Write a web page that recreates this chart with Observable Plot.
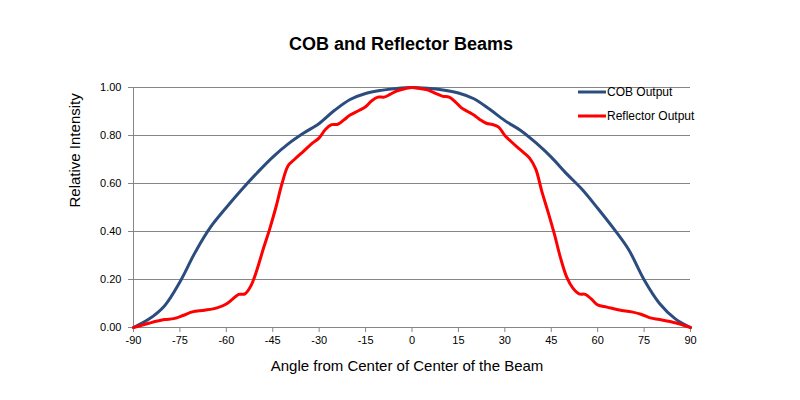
<!DOCTYPE html>
<html>
<head>
<meta charset="utf-8">
<script src="https://cdn.jsdelivr.net/npm/d3@7"></script>
<script src="https://cdn.jsdelivr.net/npm/@observablehq/plot@0.6"></script>
<style>
  html, body { margin: 0; padding: 0; background: #fff; }
  #chart { width: 800px; height: 400px; }
</style>
</head>
<body>
<div id="chart"></div>
<script>
const title = "COB and Reflector Beams";
const xLabel = "Angle from Center of Center of the Beam";
const yLabel = "Relative Intensity";
const seriesNames = ["COB Output", "Reflector Output"];
const seriesColors = ["#2B4C7E", "#FF0000"];
const xTicks = [-90, -75, -60, -45, -30, -15, 0, 15, 30, 45, 60, 75, 90];
const yTicks = [0, 0.2, 0.4, 0.6, 0.8, 1.0];

const cobAngles = [-90,-85,-80,-75,-70,-65,-60,-55,-50,-45,-40,-35,-30,-25,-20,-15,-10,-5,0,5,10,15,20,25,30,35,40,45,50,55,60,65,70,75,80,85,90];
const cobValues = [0,0.035,0.09,0.19,0.315,0.42,0.50,0.575,0.645,0.71,0.765,0.81,0.85,0.905,0.95,0.975,0.988,0.996,1.0,0.997,0.99,0.977,0.953,0.91,0.862,0.822,0.77,0.71,0.64,0.575,0.497,0.415,0.325,0.199,0.10,0.037,0];

const refAngles = [-90,-85,-80,-77,-74,-71,-67,-63,-60,-58,-56,-54,-52,-50,-48,-46,-44,-42,-40,-38,-35,-32,-30,-28,-26,-24,-22,-20,-17,-15,-13,-11,-9,-7,-5,-2,0,2,5,8,10,12,14,16,18,20,22,24,26,28,30,32,34,36,38,40,42,44,46,48,50,52,54,56,58,60,63,67,71,74,77,80,85,90];
const refValues = [0,0.018,0.033,0.037,0.05,0.065,0.072,0.082,0.098,0.118,0.138,0.14,0.175,0.245,0.33,0.41,0.50,0.60,0.675,0.70,0.735,0.77,0.79,0.825,0.845,0.847,0.865,0.885,0.905,0.92,0.945,0.96,0.96,0.972,0.985,0.996,1.0,0.997,0.99,0.973,0.963,0.96,0.94,0.915,0.9,0.885,0.866,0.851,0.846,0.835,0.80,0.775,0.752,0.73,0.706,0.66,0.565,0.48,0.39,0.29,0.21,0.164,0.14,0.138,0.118,0.094,0.085,0.073,0.065,0.055,0.04,0.033,0.02,0];

const cob = cobAngles.map((a, i) => ({angle: a, value: cobValues[i], series: seriesNames[0]}));
const ref = refAngles.map((a, i) => ({angle: a, value: refValues[i], series: seriesNames[1]}));

const font = "'Liberation Sans', Arial, sans-serif";

const plot = Plot.plot({
  width: 800,
  height: 400,
  marginLeft: 133,
  marginRight: 110,
  marginTop: 87,
  marginBottom: 73,
  style: {fontFamily: font, background: "#fff", overflow: "visible"},
  x: {domain: [-90, 90]},
  y: {domain: [0, 1]},
  marks: [
    Plot.gridY(yTicks.filter(d => d > 0), {stroke: "#868686", strokeOpacity: 1, strokeWidth: 1}),
    Plot.ruleX([-90], {stroke: "#868686"}),
    Plot.ruleY([0], {stroke: "#868686"}),
    Plot.axisX({ticks: xTicks, tickFormat: d => String(d), tickSize: 5, tickPadding: 4, fontSize: 11, stroke: "#868686", color: "#000", label: null}),
    Plot.axisY({ticks: yTicks, tickFormat: d3.format(".2f"), tickSize: 5, tickPadding: 7, fontSize: 11, stroke: "#868686", color: "#000", label: null}),
    Plot.line(cob, {x: "angle", y: "value", stroke: seriesColors[0], strokeWidth: 3, curve: "catmull-rom"}),
    Plot.line(ref, {x: "angle", y: "value", stroke: seriesColors[1], strokeWidth: 3, curve: "catmull-rom"}),
    Plot.text([title], {frameAnchor: "top", dx: -11, dy: -50, fontSize: 18, fontWeight: "bold", fill: "#000"}),
    Plot.text([xLabel], {frameAnchor: "bottom", dx: -5, dy: 43, fontSize: 15, fill: "#000"}),
    Plot.text([yLabel], {frameAnchor: "left", dx: -58, rotate: -90, fontSize: 15, fill: "#000"})
  ]
});

// Legend
const svg = d3.select(plot);
const lg = svg.append("g").attr("font-family", font).attr("font-size", 12).attr("text-anchor", "start");
seriesNames.forEach((name, i) => {
  const y = 92 + i * 24;
  lg.append("line").attr("x1", 578).attr("x2", 606).attr("y1", y).attr("y2", y)
    .attr("stroke", seriesColors[i]).attr("stroke-width", 3);
  lg.append("text").attr("x", 607).attr("y", y).attr("dy", "0.35em").attr("fill", "#000").attr("text-anchor", "start").text(name);
});

document.getElementById("chart").appendChild(plot);
</script>
</body>
</html>
